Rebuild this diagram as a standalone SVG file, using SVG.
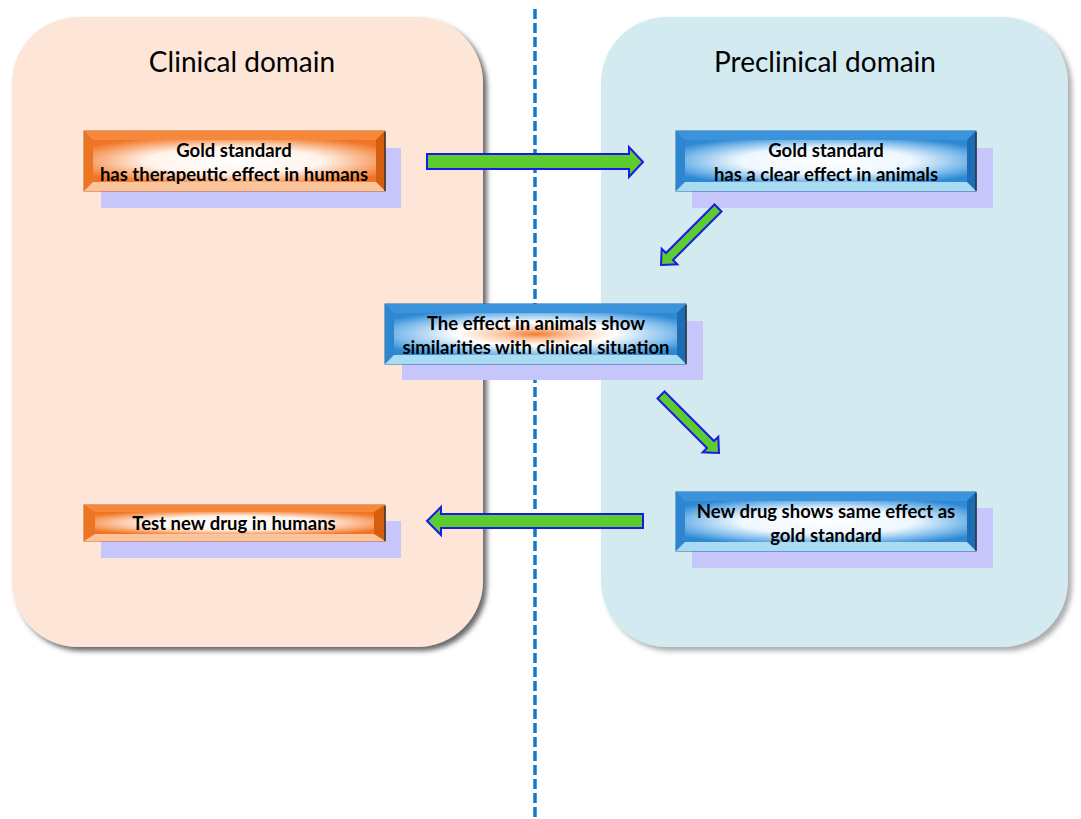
<svg xmlns="http://www.w3.org/2000/svg" width="1081" height="819" viewBox="0 0 1081 819">
  <style>
    .title { font-family: Lato, "Open Sans", "Liberation Sans", sans-serif; font-size: 28px; fill: #000; text-anchor: middle; }
    .lbl { font-family: Lato, "Open Sans", "Liberation Sans", sans-serif; font-size: 18.5px; font-weight: bold; fill: #000; text-anchor: middle; }
    .shadowbox { fill: #c6c6fa; }
    .arrow { fill: #5ccc2e; stroke: #1a1ae6; stroke-width: 2; stroke-linejoin: miter; }
    .divider { stroke: #1479c9; stroke-width: 3.5; stroke-dasharray: 10 4; fill: none; }
    .o-top { fill: #f5883a; } .o-left { fill: #ec7524; } .o-right { fill: #d55e0e; } .o-bot { fill: #fbc49a; }
    .b-top { fill: #3a93db; } .b-left { fill: #2d86cf; } .b-right { fill: #1d6db5; } .b-bot { fill: #a9dcf3; }
  </style>
  <defs>
    <filter id="pshadowL" x="-5%" y="-5%" width="115%" height="115%">
      <feDropShadow dx="4" dy="4" stdDeviation="2.5" flood-color="#444" flood-opacity="0.8"/>
    </filter>
    <filter id="pshadowR" x="-5%" y="-5%" width="115%" height="115%">
      <feDropShadow dx="4" dy="4" stdDeviation="2.5" flood-color="#777" flood-opacity="0.6"/>
    </filter>
    <radialGradient id="gOrange" cx="0.5" cy="0.5" r="0.62">
      <stop offset="0" stop-color="#ffffff"/>
      <stop offset="0.5" stop-color="#fff4ec"/>
      <stop offset="0.8" stop-color="#f8a670"/>
      <stop offset="1" stop-color="#f07423"/>
    </radialGradient>
    <radialGradient id="gBlue" cx="0.5" cy="0.5" r="0.62">
      <stop offset="0" stop-color="#ffffff"/>
      <stop offset="0.5" stop-color="#eef7ff"/>
      <stop offset="0.8" stop-color="#7ab9ea"/>
      <stop offset="1" stop-color="#2e88d4"/>
    </radialGradient>
    <radialGradient id="gMid" cx="0.5" cy="0.5" r="0.62">
      <stop offset="0" stop-color="#f47a30"/>
      <stop offset="0.2" stop-color="#fbc8a4"/>
      <stop offset="0.45" stop-color="#ffffff"/>
      <stop offset="0.8" stop-color="#7ab9ea"/>
      <stop offset="1" stop-color="#2e88d4"/>
    </radialGradient>
  </defs>

  <rect width="1081" height="819" fill="#ffffff"/>

  <g id="clinical-domain">
    <rect x="12" y="17" width="471" height="630" rx="66" ry="66" fill="#fde6d7" filter="url(#pshadowL)"/>
    <text class="title" x="242" y="72">Clinical  domain</text>
  </g>
  <g id="preclinical-domain">
    <rect x="601" y="17" width="467" height="630" rx="66" ry="66" fill="#d3eaf0" filter="url(#pshadowR)"/>
    <text class="title" x="825" y="72">Preclinical domain</text>
  </g>

  <g id="divider">
    <line class="divider" x1="535" y1="9" x2="535" y2="819"/>
  </g>

  <g id="node-clinical-gold">
    <rect class="shadowbox" x="101" y="148" width="300" height="60"/>
    <rect x="84" y="131" width="301" height="60" fill="#f07828" stroke="#c95a0c" stroke-width="1"/>
    <polygon class="o-top" points="84,131 385,131 376,140 93,140"/>
    <polygon class="o-left" points="84,131 93,140 93,182 84,191"/>
    <polygon class="o-right" points="385,131 385,191 376,182 376,140"/>
    <polygon class="o-bot" points="84,191 93,182 376,182 385,191"/>
    <rect x="93" y="140" width="283" height="42" fill="url(#gOrange)"/>
    <line x1="385" y1="132" x2="385" y2="191" stroke="#333" stroke-width="1.5"/>
    <text class="lbl" x="234" y="157">Gold standard</text>
    <text class="lbl" x="234" y="181">has therapeutic effect in humans</text>
  </g>

  <g id="node-preclinical-gold">
    <rect class="shadowbox" x="692" y="148" width="301" height="60"/>
    <rect x="676" y="131" width="300" height="60" fill="#2c88d4" stroke="#1a62a8" stroke-width="1"/>
    <polygon class="b-top" points="676,131 976,131 967,140 685,140"/>
    <polygon class="b-left" points="676,131 685,140 685,182 676,191"/>
    <polygon class="b-right" points="976,131 976,191 967,182 967,140"/>
    <polygon class="b-bot" points="676,191 685,182 967,182 976,191"/>
    <rect x="685" y="140" width="282" height="42" fill="url(#gBlue)"/>
    <line x1="976" y1="132" x2="976" y2="191" stroke="#333" stroke-width="1.5"/>
    <text class="lbl" x="826" y="157">Gold standard</text>
    <text class="lbl" x="826" y="181">has a clear effect in animals</text>
  </g>

  <g id="node-similarities">
    <rect class="shadowbox" x="402" y="321" width="301" height="59"/>
    <rect x="385" y="304" width="301" height="60" fill="#2c88d4" stroke="#1a62a8" stroke-width="1"/>
    <polygon class="b-top" points="385,304 686,304 677,313 394,313"/>
    <polygon class="b-left" points="385,304 394,313 394,355 385,364"/>
    <polygon class="b-right" points="686,304 686,364 677,355 677,313"/>
    <polygon class="b-bot" points="385,364 394,355 677,355 686,364"/>
    <rect x="394" y="313" width="283" height="42" fill="url(#gMid)"/>
    <line x1="686" y1="305" x2="686" y2="364" stroke="#333" stroke-width="1.5"/>
    <text class="lbl" x="536" y="330">The effect in animals show</text>
    <text class="lbl" x="536" y="354">similarities with clinical situation</text>
  </g>

  <g id="node-test-humans">
    <rect class="shadowbox" x="101" y="521" width="300" height="37"/>
    <rect x="84" y="505" width="301" height="36" fill="#f07828" stroke="#c95a0c" stroke-width="1"/>
    <polygon class="o-top" points="84,505 385,505 374,512 95,512"/>
    <polygon class="o-left" points="84,505 95,512 95,534 84,541"/>
    <polygon class="o-right" points="385,505 385,541 374,534 374,512"/>
    <polygon class="o-bot" points="84,541 95,534 374,534 385,541"/>
    <rect x="95" y="512" width="279" height="22" fill="url(#gOrange)"/>
    <line x1="385" y1="506" x2="385" y2="541" stroke="#333" stroke-width="1.5"/>
    <text class="lbl" x="234" y="530">Test new drug in humans</text>
  </g>

  <g id="node-new-drug">
    <rect class="shadowbox" x="692" y="508" width="301" height="60"/>
    <rect x="676" y="492" width="300" height="59" fill="#2c88d4" stroke="#1a62a8" stroke-width="1"/>
    <polygon class="b-top" points="676,492 976,492 967,501 685,501"/>
    <polygon class="b-left" points="676,492 685,501 685,542 676,551"/>
    <polygon class="b-right" points="976,492 976,551 967,542 967,501"/>
    <polygon class="b-bot" points="676,551 685,542 967,542 976,551"/>
    <rect x="685" y="501" width="282" height="41" fill="url(#gBlue)"/>
    <line x1="976" y1="493" x2="976" y2="551" stroke="#333" stroke-width="1.5"/>
    <text class="lbl" x="826" y="518">New drug shows same effect as</text>
    <text class="lbl" x="826" y="542">gold standard</text>
  </g>

  <g id="connectors">
    <polygon class="arrow" points="427,154 629,154 629,147 643,162 629,177 629,169 427,169"/>
    <polygon class="arrow" points="721.5,211.5 714.5,204.5 666,253 661.7,248.7 661,265 677.3,264.3 673,260"/>
    <polygon class="arrow" points="664.5,391.5 714,441 718.3,436.7 719,453 702.7,452.3 707,448 657.5,398.5"/>
    <polygon class="arrow" points="427,521 441,507 441,514 643,514 643,528 441,528 441,535"/>
  </g>
</svg>
